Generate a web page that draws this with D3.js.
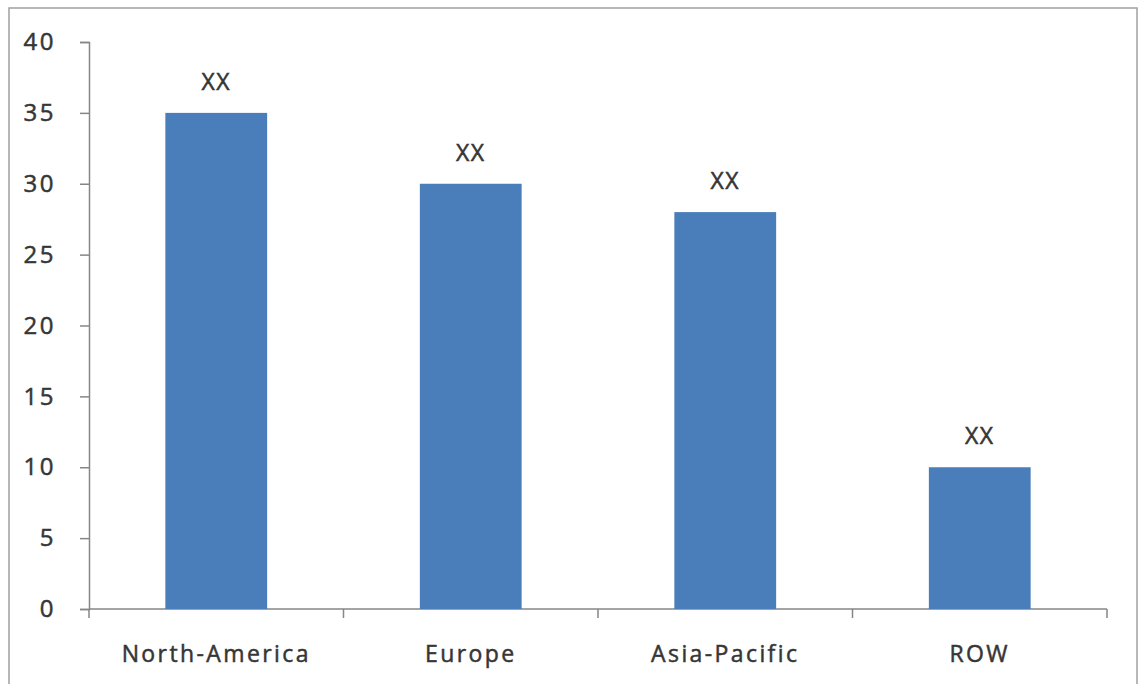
<!DOCTYPE html>
<html>
<head>
<meta charset="utf-8">
<script src="https://cdn.jsdelivr.net/npm/d3@7"></script>
<style>
  body { margin: 0; background: #fff; }
  svg text { font-family: "Open Sans", "DejaVu Sans", sans-serif; fill: #363636; stroke: #363636; stroke-width: 0.5px; }
</style>
</head>
<body>
<div id="chart"></div>
<script>
/* Data */
const regions = ["North-America", "Europe", "Asia-Pacific", "ROW"];
const shares = [35, 30, 28, 10];
const barLabels = ["XX", "XX", "XX", "XX"];
const yTicks = [0, 5, 10, 15, 20, 25, 30, 35, 40];

const data = regions.map((r, i) => ({ region: r, value: shares[i], label: barLabels[i] }));

/* Bar chart */
const width = 1139, height = 684;
const plotLeft = 89, plotRight = 1107, plotTop = 42, plotBottom = 609;

const svg = d3.select("#chart").append("svg")
  .attr("width", width)
  .attr("height", height);

// outer frame
svg.append("rect")
  .attr("x", 9).attr("y", 8)
  .attr("width", 1128).attr("height", 690)
  .attr("fill", "none")
  .attr("stroke", "#a0a0a0")
  .attr("stroke-width", 1.5);

const x = d3.scaleBand()
  .domain(regions)
  .range([plotLeft, plotRight])
  .paddingInner(0.6)
  .paddingOuter(0.3);

const y = d3.scaleLinear()
  .domain([0, 40])
  .range([plotBottom, plotTop]);

// y axis
const yAxis = svg.append("g")
  .attr("transform", `translate(${plotLeft},0)`)
  .call(d3.axisLeft(y).tickValues(yTicks).tickSize(9).tickPadding(24));
yAxis.select(".domain").attr("stroke", "#868686").attr("stroke-width", 1.5);
yAxis.selectAll(".tick line").attr("stroke", "#868686").attr("stroke-width", 1.5);
yAxis.selectAll(".tick text")
  .attr("font-size", "24px")
  .attr("letter-spacing", "2.5px")
  .attr("fill", "#363636")
  .style("font-family", "\"Open Sans\", sans-serif");

// x axis: line with ticks on band boundaries
const xAxis = svg.append("g").attr("transform", `translate(0,${plotBottom})`);
xAxis.append("line")
  .attr("x1", plotLeft).attr("x2", plotRight)
  .attr("stroke", "#868686").attr("stroke-width", 1.5);
const step = x.step();
const bounds = regions.map(r => x(r) - x.paddingInner() * step / 2);
bounds.push(plotRight);
xAxis.selectAll(".xtick")
  .data(bounds)
  .enter()
  .append("line")
  .attr("class", "xtick")
  .attr("x1", d => d).attr("x2", d => d)
  .attr("y1", 0).attr("y2", 9)
  .attr("stroke", "#868686").attr("stroke-width", 1.5);

xAxis.selectAll(".xlabel")
  .data(regions)
  .enter()
  .append("text")
  .attr("class", "xlabel")
  .attr("x", d => x(d) + x.bandwidth() / 2)
  .attr("y", 53)
  .attr("text-anchor", "middle")
  .attr("font-size", "23px")
  .attr("letter-spacing", "2.4px")
  .text(d => d);

// bars
svg.selectAll(".bar")
  .data(data)
  .enter()
  .append("rect")
  .attr("class", "bar")
  .attr("x", d => x(d.region))
  .attr("y", d => y(d.value))
  .attr("width", x.bandwidth())
  .attr("height", d => y(0) - y(d.value))
  .attr("fill", "#4a7ebb");

// value labels
svg.selectAll(".val")
  .data(data)
  .enter()
  .append("text")
  .attr("class", "val")
  .attr("x", d => x(d.region) + x.bandwidth() / 2)
  .attr("y", d => y(d.value) - 23)
  .attr("text-anchor", "middle")
  .attr("font-size", "23px")
  .attr("letter-spacing", "1.5px")
  .text(d => d.label);
</script>
</body>
</html>
